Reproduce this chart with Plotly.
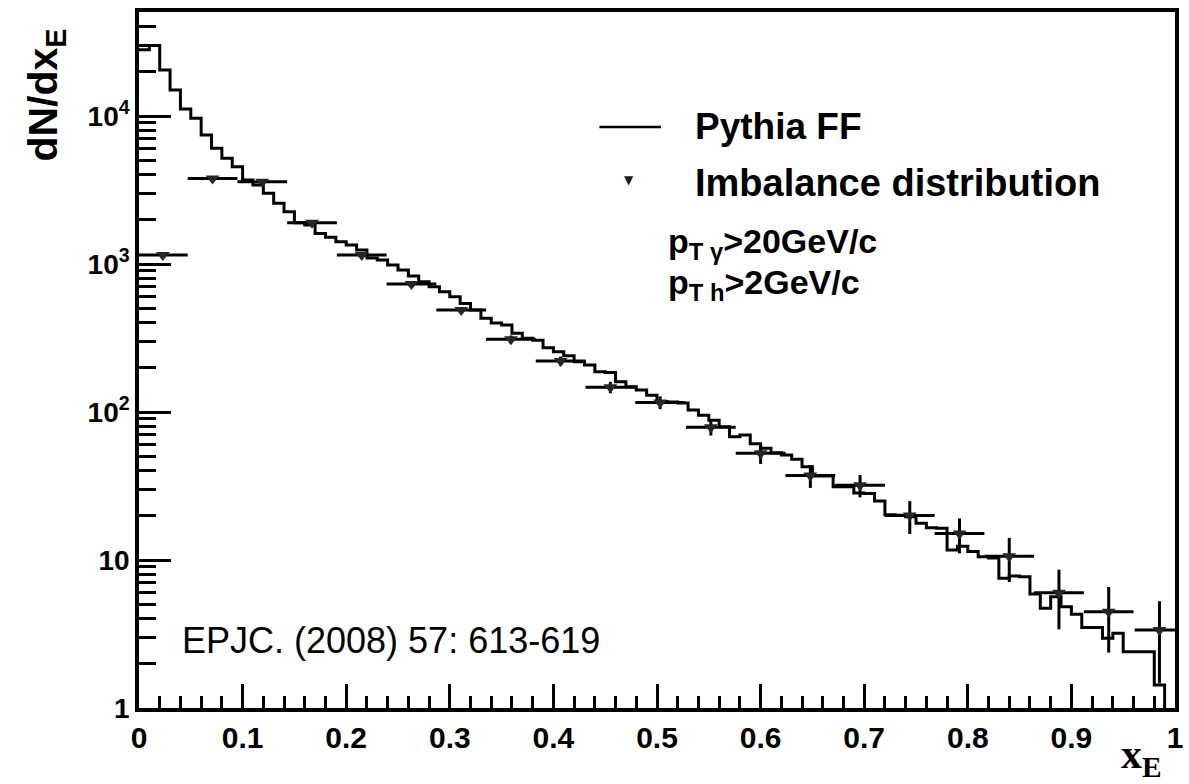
import numpy as np
import plotly.graph_objects as go

# ---------------- data ----------------
# Pythia FF histogram: 100 bins of width 0.01 on [0, 1]
hist_edges = [i / 100 for i in range(101)]
hist_vals = [
    28000, 30000, 20500, 15000, 11150, 9650, 7440, 6050, 5180, 4540,
    3700, 3420, 3005, 2570, 2255, 1900, 1835, 1610, 1515, 1413,
    1343, 1245, 1100, 1064, 985, 911, 830, 760, 703, 650,
    601, 542, 489, 430, 400, 387, 340, 315, 306, 272,
    255, 240, 219, 208, 187, 185, 160, 148, 141, 130,
    118, 117, 115, 103, 95, 88, 79.6, 68, 70, 61,
    57, 53, 51.2, 47.9, 42.7, 37, 37, 31.3, 31.3, 28.4,
    28.2, 25, 20.2, 20.1, 19.6, 17.7, 16.5, 16.4, 11.7, 12.4,
    11.4, 10.5, 10.3, 7.52, 7.8, 7.7, 5.9, 4.72, 5.65, 4.84,
    4.3, 3.5, 3.5, 2.96, 3.2, 2.4, 2.4, 2.4, 1.43, 0,
]

# Imbalance distribution points
pts_x = [0.023, 0.071, 0.119, 0.167, 0.215, 0.263, 0.311, 0.359, 0.407, 0.455,
         0.503, 0.552, 0.600, 0.648, 0.696, 0.744, 0.792, 0.840, 0.888, 0.936, 0.985]
pts_y = [1150, 3790, 3600, 1900, 1150, 732, 489, 310, 221, 147,
         116, 78.9, 52.6, 37.2, 32.0, 20.0, 15.1, 10.6, 6.0, 4.47, 3.37]
pts_ey = [36, 66, 64, 47, 36, 29, 24, 19, 16, 13,
          11.5, 9.5, 8, 6.5, 5.5, 5, 4, 3.5, 2.6, 2.1, 1.9]
pts_ex = [0.024] * len(pts_x)

x_ticks = [0, 0.1, 0.2, 0.3, 0.4, 0.5, 0.6, 0.7, 0.8, 0.9, 1]
x_ticktext = ["0", "0.1", "0.2", "0.3", "0.4", "0.5", "0.6", "0.7", "0.8", "0.9", "1"]
y_ticks = [1, 10, 100, 1000, 10000]
y_ticktext = ["1", "10", "10<sup>2</sup>", "10<sup>3</sup>", "10<sup>4</sup>"]

# ---------------- figure ----------------
FONT = "Liberation Sans"
fig = go.Figure()

# histogram drawn as step line (empty bins pushed below the axis)
floor = 1e-2
hx = hist_edges
hy = [v if v > 0 else floor for v in hist_vals] + [hist_vals[-1] if hist_vals[-1] > 0 else floor]
fig.add_trace(go.Scatter(
    x=hx, y=hy, mode="lines", line=dict(shape="hv", color="black", width=3),
    showlegend=False, hoverinfo="skip"))

fig.add_trace(go.Scatter(
    x=pts_x, y=pts_y, mode="markers",
    marker=dict(symbol="triangle-down", size=12, color="#262626"),
    error_x=dict(type="data", array=pts_ex, color="black", thickness=3, width=0),
    error_y=dict(type="data", array=pts_ey, color="black", thickness=3, width=0),
    showlegend=False))

minor_y = [m * 10 ** k for k in range(0, 5) for m in range(2, 10)]

fig.update_layout(
    width=1189, height=784,
    margin=dict(l=139, r=6, t=12, b=76),
    paper_bgcolor="white", plot_bgcolor="white",
    showlegend=False,
    xaxis=dict(
        range=[0, 1], showgrid=False, zeroline=False,
        showline=True, linecolor="black", linewidth=3.5, mirror=True,
        tickvals=x_ticks, ticktext=x_ticktext,
        ticks="inside", ticklen=24, tickwidth=3, tickcolor="black",
        tickfont=dict(family=FONT, size=30, color="black", weight="bold"),
        minor=dict(dtick=0.02, ticks="inside", ticklen=12, tickwidth=3, tickcolor="black", showgrid=False),
    ),
    yaxis=dict(
        type="log", range=[0, 4.703], showgrid=False, zeroline=False,
        showline=True, linecolor="black", linewidth=3.5, mirror=True,
        tickvals=y_ticks, ticktext=y_ticktext,
        ticks="inside", ticklen=32, tickwidth=3, tickcolor="black",
        tickfont=dict(family=FONT, size=28, color="black", weight="bold"),
        minor=dict(tickvals=minor_y, ticks="inside", ticklen=17, tickwidth=3, tickcolor="black", showgrid=False),
    ),
)

# axis titles
fig.add_annotation(text="dN/dx<sub>E</sub>", xref="paper", yref="paper",
                   x=-0.090, y=0.881, textangle=-90, showarrow=False,
                   xanchor="center", yanchor="middle",
                   font=dict(family=FONT, size=41, color="black", weight="bold"))
fig.add_annotation(text="x<sub>E</sub>", xref="paper", yref="paper",
                   x=0.968, y=-0.07, showarrow=False, xanchor="center", yanchor="middle",
                   font=dict(family="Liberation Serif", size=42, color="black", weight="bold"))

# legend (drawn manually)
fig.add_shape(type="line", xref="paper", yref="paper", x0=0.4444, x1=0.5038,
              y0=0.8348, y1=0.8348, line=dict(color="black", width=2.5))
fig.add_annotation(text="Pythia FF", xref="paper", yref="paper", x=0.5345, y=0.8348,
                   xanchor="left", yanchor="middle", showarrow=False,
                   font=dict(family=FONT, size=37, color="black", weight="bold"))
fig.add_annotation(text="▼", xref="paper", yref="paper", x=0.473, y=0.7586,
                   xanchor="center", yanchor="middle", showarrow=False,
                   font=dict(family="DejaVu Sans", size=12, color="#1a1a1a"))
fig.add_annotation(text="Imbalance distribution", xref="paper", yref="paper", x=0.5345, y=0.7543,
                   xanchor="left", yanchor="middle", showarrow=False,
                   font=dict(family=FONT, size=38, color="black", weight="bold"))
fig.add_annotation(text="p<sub>T γ</sub>&gt;20GeV/c", xref="paper", yref="paper", x=0.5086, y=0.668,
                   xanchor="left", yanchor="middle", showarrow=False,
                   font=dict(family=FONT, size=34, color="black", weight="bold"))
fig.add_annotation(text="p<sub>T h</sub>&gt;2GeV/c", xref="paper", yref="paper", x=0.5086, y=0.6078,
                   xanchor="left", yanchor="middle", showarrow=False,
                   font=dict(family=FONT, size=34, color="black", weight="bold"))

fig.add_annotation(text="EPJC. (2008) 57: 613-619", xref="paper", yref="paper", x=0.0393, y=0.0977,
                   xanchor="left", yanchor="middle", showarrow=False,
                   font=dict(family=FONT, size=36, color="black"))

fig.write_html("out.html")
